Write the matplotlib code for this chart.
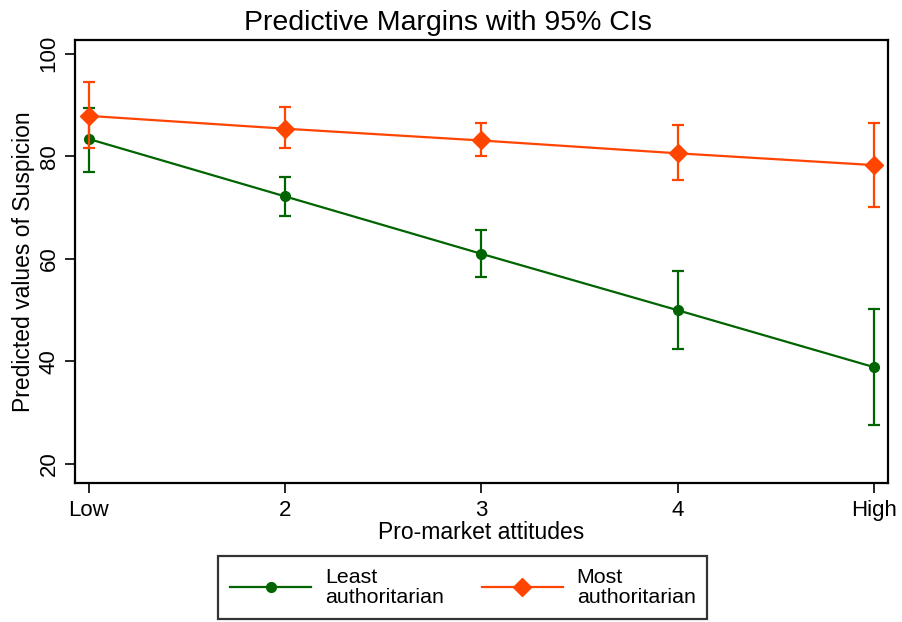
import matplotlib.pyplot as plt

plt.rcParams['font.family'] = ['Liberation Sans', 'DejaVu Sans']

levels = [1, 2, 3, 4, 5]
xticklabels = ['Low', '2', '3', '4', 'High']

least = [83.4, 72.2, 61.0, 50.0, 38.9]
least_lo = [77.0, 68.4, 56.4, 42.4, 27.7]
least_hi = [89.4, 75.9, 65.7, 57.7, 50.2]

most = [87.9, 85.4, 83.1, 80.6, 78.3]
most_lo = [81.6, 81.6, 80.0, 75.4, 70.2]
most_hi = [94.6, 89.6, 86.5, 86.1, 86.5]

green = '#006400'
orange = '#FF4500'

fig = plt.figure(figsize=(9.03, 6.22), dpi=100)
ax = fig.add_axes([0.083, 0.2235, 0.9, 0.7122])

def draw(vals, lo, hi, color, marker, ms, label):
    yerr = [[v - l for v, l in zip(vals, lo)], [h - v for v, h in zip(vals, hi)]]
    ax.errorbar(levels, vals, yerr=yerr, fmt='none', ecolor=color,
                elinewidth=1.6, capsize=4.5, capthick=1.6)
    line, = ax.plot(levels, vals, color=color, lw=1.6, marker=marker,
                    ms=ms, label=label)
    return line

l1 = draw(least, least_lo, least_hi, green, 'o', 7, 'Least\nauthoritarian')
l2 = draw(most, most_lo, most_hi, orange, 'D', 9, 'Most\nauthoritarian')

ax.set_xlim(0.93, 5.07)
ax.set_ylim(16.3, 102.7)
ax.set_xticks(levels)
ax.set_xticklabels(xticklabels)
ax.set_yticks([20, 40, 60, 80, 100])
ax.tick_params(axis='y', labelrotation=90, labelsize=16, length=7, width=1.2, pad=4)
for t in ax.get_yticklabels():
    t.set_va('center')
ax.tick_params(axis='x', labelsize=16, length=7, width=1.2, pad=5)
for s in ax.spines.values():
    s.set_linewidth(1.6)

ax.set_xlabel('Pro-market attitudes', fontsize=16.5, labelpad=0)
ax.set_ylabel('Predicted values of Suspicion', fontsize=16.5, labelpad=3)
# title is centred on the whole figure, Stata style
fig.text(0.496, 0.951, 'Predictive Margins with 95% CIs', fontsize=20.5,
         ha='center', va='baseline')

leg = fig.legend(handles=[l1, l2], loc='center', ncol=2,
                 bbox_to_anchor=(0.5125, 0.0555), fontsize=15.4,
                 frameon=True, fancybox=False, edgecolor='black',
                 handlelength=3.8, columnspacing=1.75, borderpad=0.55,
                 handletextpad=0.65, borderaxespad=0, labelspacing=0.3)
leg.get_frame().set_linewidth(1.6)
for t in leg.get_texts():
    t.set_linespacing(1.05)

fig.savefig('out.png', dpi=100)
